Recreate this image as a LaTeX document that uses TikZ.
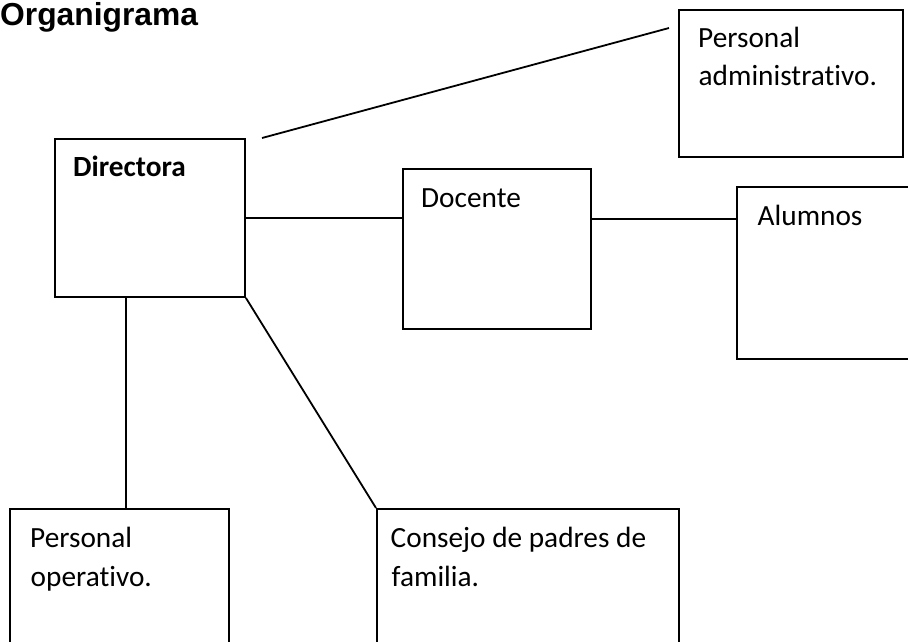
\documentclass[tikz,border=0pt]{standalone}
\usepackage{fontspec}
\setmainfont{Carlito}[Ligatures=NoCommon]
\newfontfamily\titlefont{Liberation Sans}
\usetikzlibrary{calc}
\tikzset{
  box/.style={draw=black, line width=1.9pt, rectangle, inner sep=0pt, anchor=north west},
  lbl/.style={anchor=base west, inner sep=0pt, font=\fontsize{29.3}{34}\selectfont},
  conn/.style={draw=black, line width=1.8pt},
}
\begin{document}
\begin{tikzpicture}[x=1pt,y=-1pt]
\useasboundingbox (0,0) rectangle (908,641);
\clip (0,0) rectangle (908,641);
% title
\node[anchor=base west, inner sep=0pt, font=\titlefont\bfseries\fontsize{31.8}{36}\selectfont] (title) at (0,25.5) {Organigrama};
% boxes
\node[box, minimum width=190pt, minimum height=158pt] (dir) at (54,138) {};
\node[box, minimum width=224pt, minimum height=147pt] (adm) at (678,9) {};
\node[box, minimum width=188pt, minimum height=160pt] (doc) at (402,168) {};
\node[box, minimum width=210pt, minimum height=172pt] (alu) at (736,186) {};
\node[box, minimum width=219pt, minimum height=160pt] (ope) at (9,508) {};
\node[box, minimum width=302pt, minimum height=160pt] (con) at (376,508) {};
% texts
\node[lbl, font=\bfseries\fontsize{29.3}{34}\selectfont] (tdir) at (73,176) {Directora};
\node[lbl] (tadm1) at (698,47.3) {Personal};
\node[lbl] (tadm2) at (698.5,85) {administrativo.};
\node[lbl] (tdoc) at (421,207.3) {Docente};
\node[lbl] (talu) at (757.5,225) {Alumnos};
\node[lbl] (tope1) at (30,547.3) {Personal};
\node[lbl] (tope2) at (30.5,586) {operativo.};
\node[lbl] (tcon1) at (390.5,547.3) {Consejo de padres de};
\node[lbl] (tcon2) at (391.5,586) {familia.};
% connectors
\coordinate (a1) at (262,138);
\coordinate (a2) at (669,28);
\draw[conn] (a1) -- (a2);
\draw[conn] (dir.east) -- (dir.east -| doc.west);
\draw[conn] ([yshift=-1pt]dir.east -| doc.east) -- ([yshift=-1pt]dir.east -| alu.west);
\draw[conn] ([xshift=72pt]dir.south west) -- ([xshift=72pt]dir.south west |- ope.north);
\draw[conn] (dir.south east) -- (con.north west);
\end{tikzpicture}
\end{document}
